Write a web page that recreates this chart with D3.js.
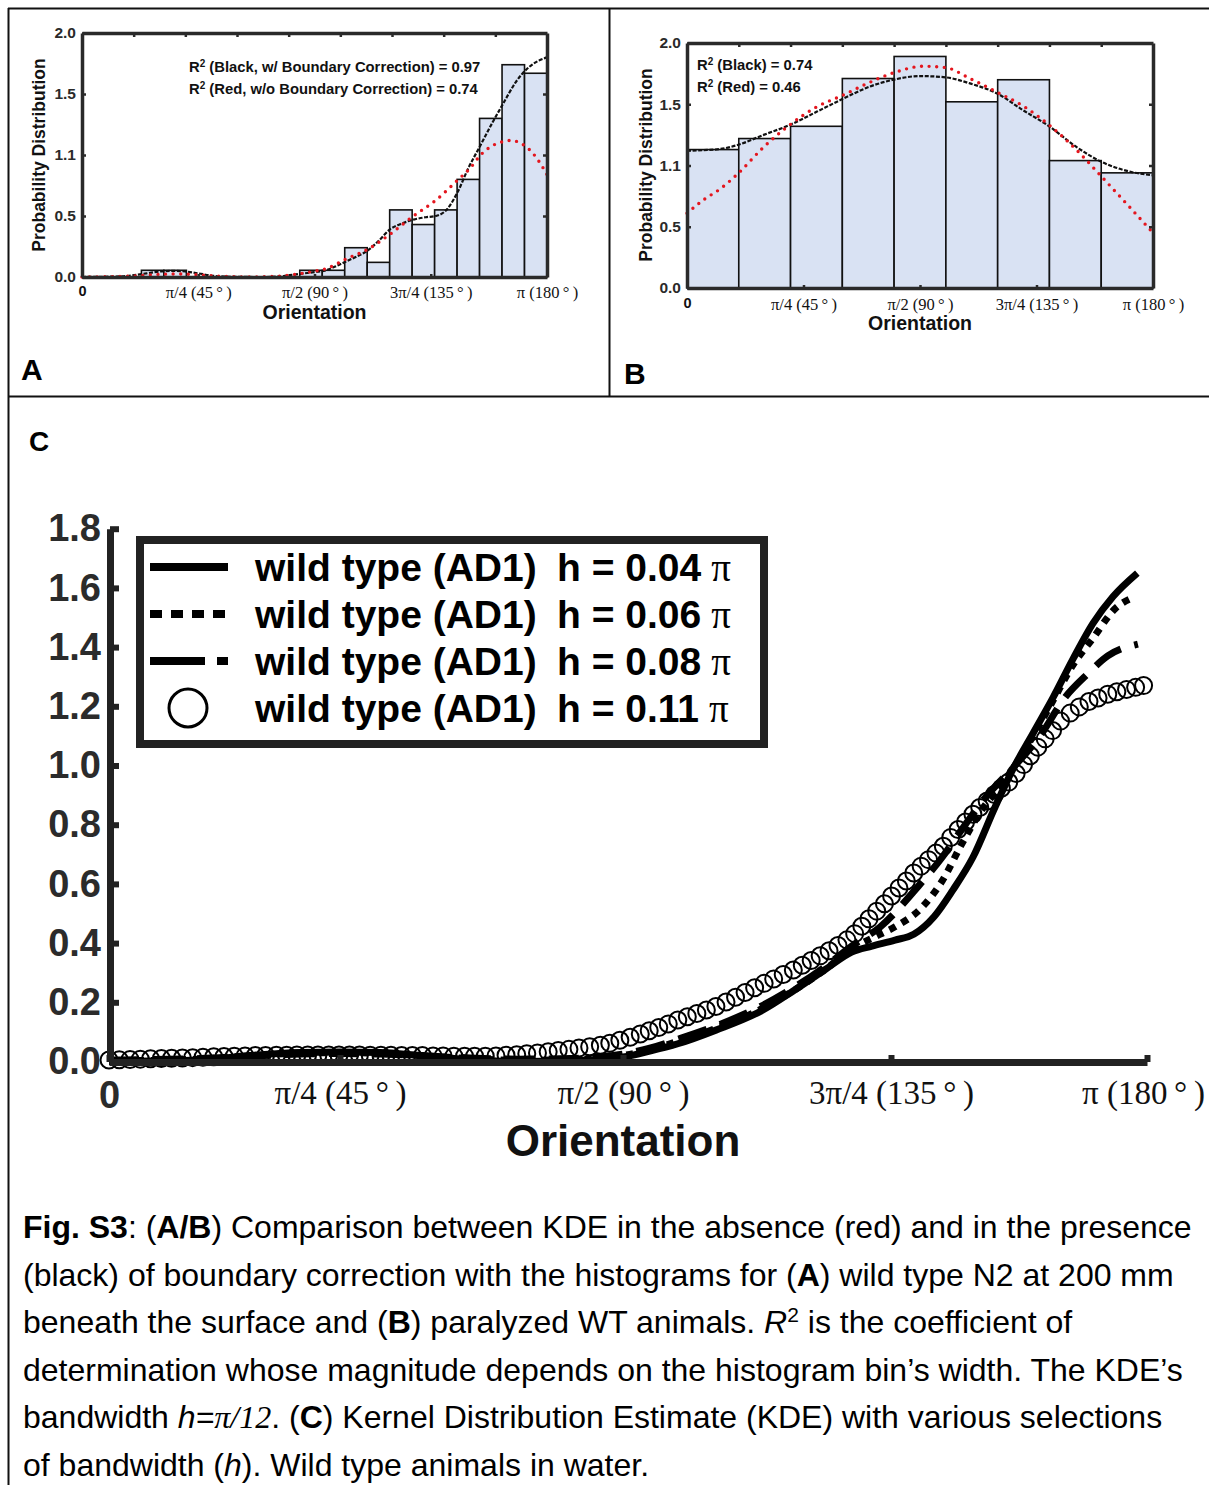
<!DOCTYPE html>
<html>
<head>
<meta charset="utf-8">
<script src="https://cdn.jsdelivr.net/npm/d3@7"></script>
<style>
  body { margin: 0; background: #fff; }
  svg { display: block; }
</style>
</head>
<body>
<div id="figure"></div>
<script>
// ---------- data ----------
// Y tick labels of panels A and B, as printed in the figure.
const yTickValuesAB = [0, 0.5, 1, 1.5, 2];
const yTickLabelsAB = ['0.0', '0.5', '1.1', '1.5', '2.0'];
const xTickValues = [0, 45, 90, 135, 180];
const xTickLabels = ['0', 'π/4 (45\u2009°\u2009)', 'π/2 (90\u2009°\u2009)', '3π/4 (135\u2009°\u2009)', 'π (180\u2009°\u2009)'];

// Panel A: histogram (bin start in degrees, height) and the two KDE curves.
const binWidthA = 8.7;
const binStartsA = [23.0, 31.7, 84.3, 93.0, 101.7, 110.4, 119.1, 127.8, 136.5, 145.2, 153.9, 162.6, 171.3];
const binValuesA = [0.055, 0.055, 0.055, 0.055, 0.24, 0.12, 0.55, 0.43, 0.55, 0.80, 1.30, 1.74, 1.67];
const blackA = [[0, 0.0], [15, 0.005], [25, 0.03], [30, 0.045], [35, 0.05], [40, 0.045], [45, 0.03], [50, 0.012],
  [58, 0.002], [70, 0.0], [78, 0.008], [82, 0.02], [88, 0.035], [94.7, 0.057], [98.5, 0.09], [102.5, 0.13],
  [106.5, 0.17], [110.8, 0.22], [115, 0.30], [119.2, 0.39], [124, 0.44], [128.3, 0.47], [133, 0.49], [137, 0.50],
  [141.5, 0.56], [145.5, 0.70], [149.5, 0.89], [154, 1.07], [159, 1.27], [163, 1.42], [168, 1.60], [173, 1.72],
  [176.5, 1.77], [180, 1.80]];
const redA = [[0, 0.0], [20, 0.008], [30, 0.022], [38, 0.025], [45, 0.018], [55, 0.005], [65, 0.0], [75, 0.005],
  [82, 0.02], [88, 0.04], [94.7, 0.07], [102.5, 0.15], [110.8, 0.23], [119.2, 0.35], [128.3, 0.50], [137, 0.63],
  [145.7, 0.80], [150.2, 0.89], [154.3, 1.0], [159.2, 1.08], [163, 1.11], [166, 1.12], [169.5, 1.10],
  [173.4, 1.04], [176.5, 0.96], [180, 0.84]];

// Panel B: paralyzed WT animals.
const binWidthB = 20;
const binStartsB = [0, 20, 40, 60, 80, 100, 120, 140, 160];
const binValuesB = [1.13, 1.22, 1.32, 1.71, 1.89, 1.52, 1.70, 1.04, 0.94];
const blackB = [[0, 1.12], [6, 1.125], [12.9, 1.135], [19.5, 1.167], [29.6, 1.25], [39.6, 1.33], [50.2, 1.44],
  [59.8, 1.54], [70.7, 1.645], [79.7, 1.70], [90, 1.73], [99.8, 1.72], [109.3, 1.67], [119.6, 1.59],
  [129.9, 1.45], [139.9, 1.32], [150.5, 1.15], [160.1, 1.03], [171, 0.95], [180, 0.92]];
const redB = [[0, 0.61], [6.4, 0.72], [12.9, 0.81], [19.5, 0.93], [29.6, 1.15], [39.6, 1.33], [50.2, 1.48],
  [59.8, 1.57], [70.7, 1.68], [79.7, 1.756], [91.3, 1.81], [99.8, 1.80], [109.3, 1.71], [119.6, 1.60],
  [129.9, 1.485], [139.9, 1.33], [150.5, 1.126], [160.1, 0.91], [171, 0.66], [180, 0.45]];

// Panel C: KDE with several bandwidths (h, in units of pi).
const bandwidths = ['0.04', '0.06', '0.08', '0.11'];
const yTickValuesC = [0, 0.2, 0.4, 0.6, 0.8, 1.0, 1.2, 1.4, 1.6, 1.8];
const kdeH004 = [[0, 0.0], [17.7, 0.005], [27.5, 0.02], [37.2, 0.03], [45, 0.032], [51.4, 0.03], [57.7, 0.02],
  [65.7, 0.006], [73.6, 0.0], [81.6, 0.003], [86.3, 0.008], [90, 0.015], [94.5, 0.035], [99.2, 0.06],
  [105.6, 0.106], [113.5, 0.174], [118.7, 0.24], [123.9, 0.31], [128.4, 0.37], [131.8, 0.39], [135.7, 0.41],
  [139.0, 0.43], [142.6, 0.49], [145.9, 0.58], [149.4, 0.69], [153.3, 0.86], [156.5, 0.99], [160.0, 1.11],
  [163.5, 1.23], [167.0, 1.36], [170.5, 1.48], [174.0, 1.57], [178.3, 1.65]];
const kdeH006 = [[0, 0.002], [17.7, 0.008], [27.5, 0.02], [37.2, 0.028], [45, 0.03], [51.4, 0.028], [57.7, 0.02],
  [65.7, 0.01], [73.6, 0.004], [81.6, 0.006], [86.3, 0.012], [90, 0.02], [94.5, 0.04], [99.2, 0.068],
  [105.6, 0.112], [113.5, 0.18], [118.7, 0.24], [123.9, 0.31], [128.4, 0.38], [133.2, 0.43], [135.7, 0.455],
  [140.4, 0.52], [144.0, 0.61], [147.3, 0.73], [150.6, 0.84], [154.2, 0.93], [156.8, 1.0], [160.0, 1.10],
  [163.5, 1.22], [167.0, 1.34], [170.5, 1.43], [174.4, 1.53], [177.9, 1.57]];
const kdeH008 = [[0, 0.005], [17.7, 0.01], [27.5, 0.018], [37.2, 0.025], [45, 0.027], [51.4, 0.025], [57.7, 0.02],
  [65.7, 0.012], [73.6, 0.008], [81.6, 0.01], [86.3, 0.016], [90, 0.025], [94.5, 0.045], [99.2, 0.075],
  [105.6, 0.12], [113.5, 0.19], [118.7, 0.25], [123.9, 0.32], [128.4, 0.39], [133.2, 0.455], [139.7, 0.59],
  [144.0, 0.69], [147.3, 0.78], [151.5, 0.89], [156.8, 1.0], [161.2, 1.1], [165.6, 1.23], [169.6, 1.31],
  [173.1, 1.37], [178.4, 1.41]];
// h = 0.11 pi is drawn as open circles [angle in degrees, density].
const kdeH011 = [
  [0, 0.005], [2.0, 0.006], [4.1, 0.007], [6.1, 0.008], [8.1, 0.009], [10.2, 0.010], [12.2, 0.011], [14.3, 0.012],
  [16.3, 0.013], [18.3, 0.014], [20.4, 0.016], [22.4, 0.017], [24.4, 0.018], [26.5, 0.019], [28.5, 0.020],
  [30.5, 0.020], [32.6, 0.021], [34.6, 0.021], [36.6, 0.022], [38.7, 0.022], [40.7, 0.022], [42.8, 0.022],
  [44.8, 0.022], [46.5, 0.022], [48.1, 0.022], [49.8, 0.021], [51.5, 0.021], [53.1, 0.021], [54.8, 0.020],
  [56.5, 0.020], [58.1, 0.020], [59.8, 0.019], [61.4, 0.019], [63.1, 0.018], [64.8, 0.018], [66.4, 0.018],
  [68.1, 0.018], [69.8, 0.019], [71.4, 0.021], [73.1, 0.023], [74.7, 0.026], [76.4, 0.029], [78.1, 0.033],
  [79.7, 0.037], [81.4, 0.041], [83.0, 0.046], [84.7, 0.050], [86.4, 0.055], [87.9, 0.062], [89.5, 0.072],
  [91.2, 0.082], [92.9, 0.093], [94.4, 0.104], [96.0, 0.115], [97.6, 0.127], [99.2, 0.140], [100.8, 0.151],
  [102.4, 0.162], [104.0, 0.174], [105.6, 0.186], [107.3, 0.201], [108.9, 0.217], [110.5, 0.233],
  [112.1, 0.249], [113.7, 0.264], [115.3, 0.279], [116.9, 0.294], [118.6, 0.309], [120.1, 0.325],
  [121.6, 0.341], [123.1, 0.357], [124.6, 0.374], [126.1, 0.392], [127.6, 0.411], [128.9, 0.432],
  [130.1, 0.457], [131.3, 0.482], [132.6, 0.508], [133.9, 0.533], [135.1, 0.559], [136.4, 0.586],
  [137.7, 0.610], [139.0, 0.637], [140.3, 0.660], [141.6, 0.682], [142.9, 0.704], [144.2, 0.727],
  [145.5, 0.757], [146.8, 0.784], [148.1, 0.809], [149.4, 0.835], [150.6, 0.858], [151.9, 0.880],
  [153.2, 0.902], [154.4, 0.923], [155.7, 0.944], [157.0, 0.973], [158.3, 1.003], [159.5, 1.033],
  [160.8, 1.062], [162.1, 1.090], [163.4, 1.118], [164.8, 1.150], [166.5, 1.177], [168.1, 1.198],
  [169.8, 1.216], [171.4, 1.228], [173.1, 1.241], [174.7, 1.249], [176.4, 1.257], [178.0, 1.264], [179.4, 1.270]
];

const SANS = 'Arial, "Liberation Sans", sans-serif';
const SERIF = '"Times New Roman", "Liberation Serif", serif';

var svg = d3.select('#figure').append('svg')
  .attr('width', 1209).attr('height', 1485)
  .style('background', '#fff');

// Outer frame lines between the panels.
var frame = svg.append('g').attr('stroke', '#111').attr('stroke-width', 2);
frame.append('line').attr('x1', 8).attr('y1', 8.5).attr('x2', 1209).attr('y2', 8.5);
frame.append('line').attr('x1', 8.5).attr('y1', 8).attr('x2', 8.5).attr('y2', 1485);
frame.append('line').attr('x1', 609.5).attr('y1', 8).attr('x2', 609.5).attr('y2', 396);
frame.append('line').attr('x1', 8).attr('y1', 396.5).attr('x2', 1209).attr('y2', 396.5);

/**
 * Styles an axis group: thick frame line, small inward ticks.
 */
var styleAxis = function(g, domainWidth, tickWidth, color) {
  g.attr('font-family', null).attr('font-size', null);
  g.select('.domain').attr('stroke', color).attr('stroke-width', domainWidth);
  g.selectAll('.tick line').attr('stroke', color).attr('stroke-width', tickWidth);
};

/**
 * Draws one histogram panel (A or B) with the black and red KDE curves.
 */
var drawHistPanel = function(p) {
  var g = svg.append('g');
  var x = d3.scaleLinear().domain([0, 180]).range([p.left, p.right]);
  var y = d3.scaleLinear().domain([0, 2]).range([p.bottom, p.top]);

  // Histogram bars.
  g.selectAll('.bar').data(p.starts).enter().append('rect')
    .attr('class', 'bar')
    .attr('x', function(d) { return x(d); })
    .attr('width', function(d) { return x(d + p.binWidth) - x(d); })
    .attr('y', function(d, i) { return y(p.values[i]); })
    .attr('height', function(d, i) { return y(0) - y(p.values[i]); })
    .attr('fill', '#d9e2f3').attr('stroke', '#111').attr('stroke-width', 1.6);

  var line = d3.line()
    .x(function(d) { return x(d[0]); })
    .y(function(d) { return y(d[1]); })
    .curve(d3.curveMonotoneX);

  // Black: with boundary correction. Red: without.
  g.append('path').attr('d', line(p.black))
    .attr('fill', 'none').attr('stroke', '#111').attr('stroke-width', 2.2)
    .attr('stroke-dasharray', '4 1.6');
  g.append('path').attr('d', line(p.red))
    .attr('fill', 'none').attr('stroke', '#e4161e').attr('stroke-width', 3.4)
    .attr('stroke-linecap', 'round').attr('stroke-dasharray', '0 7.6');

  // Frame axes.
  var color = '#2a2a2a';
  var left = g.append('g').attr('transform', 'translate(' + p.left + ',0)')
    .call(d3.axisLeft(y).tickValues(yTickValuesAB)
      .tickFormat(function(d, i) { return yTickLabelsAB[i]; })
      .tickSize(-4).tickSizeOuter(0).tickPadding(6));
  styleAxis(left, 3.5, 2.5, color);
  left.selectAll('text').attr('font-family', SANS).attr('font-weight', 'bold')
    .attr('font-size', 15.5).attr('fill', color);

  var right = g.append('g').attr('transform', 'translate(' + p.right + ',0)')
    .call(d3.axisRight(y).tickValues(yTickValuesAB).tickFormat('').tickSize(-4).tickSizeOuter(0));
  styleAxis(right, 3.5, 2.5, color);

  var top = g.append('g').attr('transform', 'translate(0,' + p.top + ')')
    .call(d3.axisTop(x).tickValues(d3.range(20, 180, 20)).tickFormat('').tickSize(-4).tickSizeOuter(0));
  styleAxis(top, 3.5, 2.5, color);

  var bottom = g.append('g').attr('transform', 'translate(0,' + p.bottom + ')')
    .call(d3.axisBottom(x).tickValues(xTickValues)
      .tickFormat(function(d, i) { return xTickLabels[i]; })
      .tickSize(-3).tickSizeOuter(0).tickPadding(p.xPad));
  styleAxis(bottom, 3.5, 2.5, color);
  bottom.selectAll('text')
    .attr('font-family', function(d, i) { return i === 0 ? SANS : SERIF; })
    .attr('font-weight', function(d, i) { return i === 0 ? 'bold' : 'normal'; })
    .attr('font-size', function(d, i) { return i === 0 ? 14.5 : 16.5; })
    .attr('fill', '#111');

  // Axis titles.
  g.append('text')
    .attr('transform', 'translate(' + p.yTitleX + ',' + p.yTitleY + ') rotate(-90)')
    .attr('text-anchor', 'middle').attr('font-family', SANS).attr('font-weight', 'bold')
    .attr('font-size', 17.5).attr('fill', '#111')
    .text('Probability Distribution');
  g.append('text')
    .attr('x', (p.left + p.right) / 2).attr('y', p.bottom + 42)
    .attr('text-anchor', 'middle').attr('font-family', SANS).attr('font-weight', 'bold')
    .attr('font-size', 19.5).attr('fill', '#111')
    .text('Orientation');

  // R^2 annotations.
  p.notes.forEach(function(note, i) {
    var t = g.append('text')
      .attr('x', p.noteX).attr('y', p.noteY + i * 22)
      .attr('font-family', SANS).attr('font-weight', 'bold').attr('font-size', 14.8).attr('fill', '#111');
    t.append('tspan').text('R');
    t.append('tspan').attr('font-size', 10).attr('dy', -5).text('2');
    t.append('tspan').attr('dy', 5).text(' ' + note);
  });

  // Panel letter.
  svg.append('text')
    .attr('x', p.letterX).attr('y', p.letterY)
    .attr('font-family', SANS).attr('font-weight', 'bold').attr('font-size', 30).attr('fill', '#000')
    .text(p.letter);
};

drawHistPanel({
  left: 82, right: 547, top: 33, bottom: 277, yTitleX: 45, yTitleY: 155, xPad: 9,
  starts: binStartsA, values: binValuesA, binWidth: binWidthA,
  black: blackA, red: redA,
  notes: ['(Black, w/ Boundary Correction) = 0.97', '(Red, w/o Boundary Correction) = 0.74'],
  noteX: 189, noteY: 72, letter: 'A', letterX: 21, letterY: 380
});

drawHistPanel({
  left: 687, right: 1153, top: 43, bottom: 288, yTitleX: 652, yTitleY: 165, xPad: 10,
  starts: binStartsB, values: binValuesB, binWidth: binWidthB,
  black: blackB, red: redB,
  notes: ['(Black) = 0.74', '(Red) = 0.46'],
  noteX: 697, noteY: 70, letter: 'B', letterX: 624, letterY: 384
});

// ---------- Panel C ----------
var gc = svg.append('g');
var xC = d3.scaleLinear().domain([0, 45, 90, 135, 180]).range([109, 340, 623, 891, 1147]);
var yC = d3.scaleLinear().domain([0, 1.8]).range([1061.5, 528.7]);
var axisColor = '#222';

gc.append('text')
  .attr('x', 29).attr('y', 451)
  .attr('font-family', SANS).attr('font-weight', 'bold').attr('font-size', 28).attr('fill', '#000')
  .text('C');

// Open circles for h = 0.11 pi.
gc.selectAll('.kde-circle').data(kdeH011).enter().append('circle')
  .attr('class', 'kde-circle')
  .attr('cx', function(d) { return xC(d[0]); })
  .attr('cy', function(d) { return yC(d[1]); })
  .attr('r', 8.5)
  .attr('fill', 'none').attr('stroke', '#000').attr('stroke-width', 2);

var lineC = d3.line()
  .x(function(d) { return xC(d[0]); })
  .y(function(d) { return yC(d[1]); })
  .curve(d3.curveMonotoneX);

var lineStyles = [
  { data: kdeH004, dash: null },
  { data: kdeH006, dash: '7 7' },
  { data: kdeH008, dash: '30 14' }
];
lineStyles.forEach(function(s) {
  gc.append('path').attr('d', lineC(s.data))
    .attr('fill', 'none').attr('stroke', '#000').attr('stroke-width', 7)
    .attr('stroke-dasharray', s.dash);
});

// Axes.
var yAxisC = gc.append('g').attr('transform', 'translate(110,0)')
  .call(d3.axisLeft(yC).tickValues(yTickValuesC).tickFormat(d3.format('.1f'))
    .tickSize(-9).tickSizeOuter(0).tickPadding(9));
styleAxis(yAxisC, 7, 6, axisColor);
yAxisC.selectAll('text').attr('font-family', SANS).attr('font-weight', 'bold')
  .attr('font-size', 38).attr('fill', '#2b2b2b');

var xAxisC = gc.append('g').attr('transform', 'translate(0,1062)')
  .call(d3.axisBottom(xC).tickValues(xTickValues)
    .tickFormat(function(d, i) { return xTickLabels[i]; })
    .tickSize(-7).tickSizeOuter(0).tickPadding(19));
styleAxis(xAxisC, 7, 6, axisColor);
xAxisC.selectAll('text')
  .attr('font-family', function(d, i) { return i === 0 ? SANS : SERIF; })
  .attr('font-weight', function(d, i) { return i === 0 ? 'bold' : 'normal'; })
  .attr('font-size', function(d, i) { return i === 0 ? 38 : 33; })
  .attr('fill', function(d, i) { return i === 0 ? '#2b2b2b' : '#111'; })
  .attr('dx', function(d, i) { return i === 4 ? -4 : 0; });

gc.append('text')
  .attr('x', 623).attr('y', 1156)
  .attr('text-anchor', 'middle').attr('font-family', SANS).attr('font-weight', 'bold')
  .attr('font-size', 44).attr('fill', '#111')
  .text('Orientation');

// Legend.
var legend = gc.append('g');
legend.append('rect')
  .attr('x', 140).attr('y', 540).attr('width', 624).attr('height', 204)
  .attr('fill', '#fff').attr('stroke', '#222').attr('stroke-width', 8);
var legendDash = [null, '12 9', '55 12', 'circle'];
bandwidths.forEach(function(h, i) {
  var cy = 567 + i * 47;
  if (legendDash[i] === 'circle') {
    legend.append('circle').attr('cx', 188).attr('cy', cy).attr('r', 19)
      .attr('fill', 'none').attr('stroke', '#000').attr('stroke-width', 3);
  } else {
    legend.append('line').attr('x1', 150).attr('x2', 228).attr('y1', cy).attr('y2', cy)
      .attr('stroke', '#000').attr('stroke-width', 8).attr('stroke-dasharray', legendDash[i]);
  }
  var t = legend.append('text')
    .attr('x', 255).attr('y', cy + 14)
    .attr('font-family', SANS).attr('font-weight', 'bold').attr('font-size', 39).attr('fill', '#000');
  t.append('tspan').text('wild type (AD1)');
  t.append('tspan').attr('x', 557).text('h = ' + h);
  t.append('tspan').attr('font-family', SERIF).attr('font-weight', 'normal').attr('dx', 10).text('π');
});

// ---------- Caption ----------
var captionLines = [
  [['b', 'Fig. S3'], ['n', ': ('], ['b', 'A/B'], ['n', ') Comparison between KDE in the absence (red) and in the presence']],
  [['n', '(black) of boundary correction with the histograms for ('], ['b', 'A'], ['n', ') wild type N2 at 200 mm']],
  [['n', 'beneath the surface and ('], ['b', 'B'], ['n', ') paralyzed WT animals. '], ['i', 'R'], ['sup', '2'], ['n', ' is the coefficient of']],
  [['n', 'determination whose magnitude depends on the histogram bin\u2019s width. The KDE\u2019s']],
  [['n', 'bandwidth '], ['i', 'h='], ['is', 'π/12'], ['n', '. ('], ['b', 'C'], ['n', ') Kernel Distribution Estimate (KDE) with various selections']],
  [['n', 'of bandwidth ('], ['i', 'h'], ['n', '). Wild type animals in water.']]
];
var caption = svg.append('g');
captionLines.forEach(function(parts, li) {
  var t = caption.append('text')
    .attr('x', 23).attr('y', 1238 + li * 47.6)
    .attr('font-family', SANS).attr('font-size', 32).attr('fill', '#000');
  var shifted = false;
  parts.forEach(function(p) {
    var s = t.append('tspan').text(p[1]);
    if (shifted) { s.attr('dy', 11); shifted = false; }
    if (p[0] === 'b') s.attr('font-weight', 'bold');
    if (p[0] === 'i') s.attr('font-style', 'italic');
    if (p[0] === 'is') s.attr('font-style', 'italic').attr('font-family', SERIF);
    if (p[0] === 'sup') { s.attr('font-size', 21).attr('dy', -11); shifted = true; }
  });
});
</script>
</body>
</html>
